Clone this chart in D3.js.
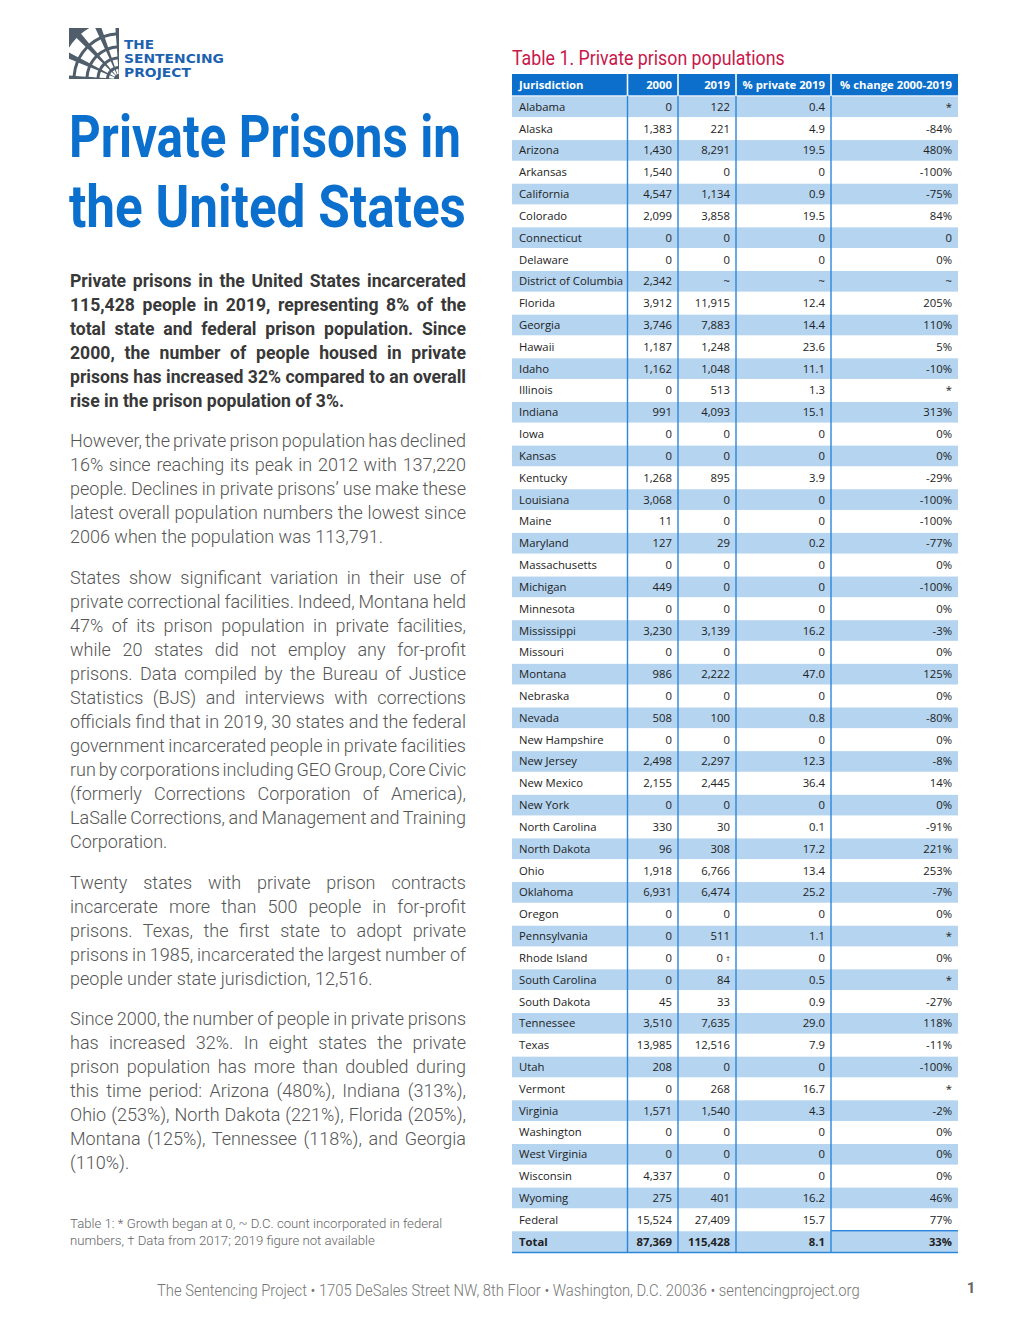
<!DOCTYPE html>
<html>
<head>
<meta charset="utf-8">
<script src="https://cdn.jsdelivr.net/npm/d3@7"></script>
<style>
  html, body { margin: 0; padding: 0; background: #fff; }
  svg { display: block; }
</style>
</head>
<body>
<script>
// ---------------- DATA ----------------
const tableTitle = "Table 1. Private prison populations";
const headers = ["Jurisdiction", "2000", "2019", "% private 2019", "% change 2000-2019"];
const jurisdictions = ["Alabama","Alaska","Arizona","Arkansas","California","Colorado","Connecticut","Delaware","District of Columbia","Florida","Georgia","Hawaii","Idaho","Illinois","Indiana","Iowa","Kansas","Kentucky","Louisiana","Maine","Maryland","Massachusetts","Michigan","Minnesota","Mississippi","Missouri","Montana","Nebraska","Nevada","New Hampshire","New Jersey","New Mexico","New York","North Carolina","North Dakota","Ohio","Oklahoma","Oregon","Pennsylvania","Rhode Island","South Carolina","South Dakota","Tennessee","Texas","Utah","Vermont","Virginia","Washington","West Virginia","Wisconsin","Wyoming","Federal","Total"];
const pop2000 = [0,1383,1430,1540,4547,2099,0,0,2342,3912,3746,1187,1162,0,991,0,0,1268,3068,11,127,0,449,0,3230,0,986,0,508,0,2498,2155,0,330,96,1918,6931,0,0,0,0,45,3510,13985,208,0,1571,0,0,4337,275,15524,87369];
// null = "~" (D.C. count incorporated in federal numbers)
const pop2019 = [122,221,8291,0,1134,3858,0,0,null,11915,7883,1248,1048,513,4093,0,0,895,0,0,29,0,0,0,3139,0,2222,0,100,0,2297,2445,0,30,308,6766,6474,0,511,0,84,33,7635,12516,0,268,1540,0,0,0,401,27409,115428];
const pop2019Notes = {"Rhode Island": "†"};
const pctPrivate2019 = ["0.4","4.9","19.5","0","0.9","19.5","0","0","~","12.4","14.4","23.6","11.1","1.3","15.1","0","0","3.9","0","0","0.2","0","0","0","16.2","0","47.0","0","0.8","0","12.3","36.4","0","0.1","17.2","13.4","25.2","0","1.1","0","0.5","0.9","29.0","7.9","0","16.7","4.3","0","0","0","16.2","15.7","8.1"];
const pctChange = ["*","-84%","480%","-100%","-75%","84%","0","0%","~","205%","110%","5%","-10%","*","313%","0%","0%","-29%","-100%","-100%","-77%","0%","-100%","0%","-3%","0%","125%","0%","-80%","0%","-8%","14%","0%","-91%","221%","253%","-7%","0%","*","0%","*","-27%","118%","-11%","-100%","*","-2%","0%","0%","0%","46%","77%","33%"];

const titleLines = ["Private Prisons in", "the United States"];
const logoWords = ["THE", "SENTENCING", "PROJECT"];
const para1 = [
  "Private prisons in the United States incarcerated",
  "115,428 people in 2019, representing 8% of the",
  "total state and federal prison population. Since",
  "2000, the number of people housed in private",
  "prisons has increased 32% compared to an overall",
  "rise in the prison population of 3%."
];
const para2 = [
  "However, the private prison population has declined",
  "16% since reaching its peak in 2012 with 137,220",
  "people. Declines in private prisons’ use make these",
  "latest overall population numbers the lowest since",
  "2006 when the population was 113,791."
];
const para3 = [
  "States show significant variation in their use of",
  "private correctional facilities. Indeed, Montana held",
  "47% of its prison population in private facilities,",
  "while 20 states did not employ any for-profit",
  "prisons. Data compiled by the Bureau of Justice",
  "Statistics (BJS) and interviews with corrections",
  "officials find that in 2019, 30 states and the federal",
  "government incarcerated people in private facilities",
  "run by corporations including GEO Group, Core Civic",
  "(formerly Corrections Corporation of America),",
  "LaSalle Corrections, and Management and Training",
  "Corporation."
];
const para4 = [
  "Twenty states with private prison contracts",
  "incarcerate more than 500 people in for-profit",
  "prisons. Texas, the first state to adopt private",
  "prisons in 1985, incarcerated the largest number of",
  "people under state jurisdiction, 12,516."
];
const para5 = [
  "Since 2000, the number of people in private prisons",
  "has increased 32%. In eight states the private",
  "prison population has more than doubled during",
  "this time period: Arizona (480%), Indiana (313%),",
  "Ohio (253%), North Dakota (221%), Florida (205%),",
  "Montana (125%), Tennessee (118%), and Georgia",
  "(110%)."
];
const footnoteLines = [
  "Table 1: * Growth began at 0, ~ D.C. count incorporated in federal",
  "numbers, † Data from 2017; 2019 figure not available"
];
const footerText = "The Sentencing Project • 1705 DeSales Street NW, 8th Floor • Washington, D.C. 20036 • sentencingproject.org";
const pageNumber = "1";

// ---------------- LAYOUT ----------------
const W = 1020, H = 1320;
const BLUE = "#0b6fcb", LIGHT = "#b4d4f0", LINE = "#2b86da";
const SANS = "Roboto, 'Open Sans', sans-serif";
const TFONT = "'Open Sans', 'Noto Sans', sans-serif";
const svg = d3.select("body").append("svg").attr("width", W).attr("height", H);
svg.append("rect").attr("width", W).attr("height", H).attr("fill", "#fff");
const defs = svg.append("defs");

// condensed text: draw at origin, then squeeze horizontally to a target width
function fitText(parent, str, x, yb, width, attrs) {
  const t = parent.append("text").attr("x", 0).attr("y", 0).text(str);
  Object.entries(attrs).forEach(([k, v]) => t.attr(k, v));
  const n = t.node().getComputedTextLength();
  t.attr("transform", `translate(${x},${yb}) scale(${width / n},1)`);
  return t;
}

// ---- Logo ----
const logo = svg.append("g").attr("transform", "translate(69,28)");
defs.append("clipPath").attr("id", "logoClip").append("rect").attr("width", 50).attr("height", 51);
logo.append("rect").attr("width", 50).attr("height", 51).attr("fill", "#505e6c");
const bands = [[5, 10], [13, 19.5], [22.5, 30.5], [33.5, 43.5], [46.5, 59]];
const sectors = [[-86, -68], [-62, -46], [-40, -25], [-19, -4]];
const arc = d3.arc();
const cells = [];
bands.forEach(b => sectors.forEach(s => cells.push({b, s})));
logo.append("g").attr("clip-path", "url(#logoClip)")
  .append("g").attr("transform", "translate(50,51)")
  .selectAll("path").data(cells).join("path")
  .attr("d", d => arc({innerRadius: d.b[0], outerRadius: d.b[1],
    startAngle: d.s[0] * Math.PI / 180, endAngle: d.s[1] * Math.PI / 180}))
  .attr("fill", "#fff");
const logoY = [49, 63, 77];
const logoW = [30, 100, 67];
const logoG = svg.append("g");
logoWords.forEach((w, i) => fitText(logoG, w, 124, logoY[i], logoW[i],
  {"font-family": "'DejaVu Sans', sans-serif", "font-weight": 700, "font-size": 12, "fill": "#1d62b0"}));

// ---- Title ----
const titleY = [157, 227];
const titleW = [392, 397];
const titleG = svg.append("g");
titleLines.forEach((t, i) => fitText(titleG, t, 69, titleY[i], titleW[i],
  {"font-family": SANS, "font-weight": 700, "font-size": 59, "fill": "#0a6fcd"}));

// ---- Paragraphs (justified) ----
const PX = 70, PW = 396, LH = 24;
function drawPara(lines, y0, opts) {
  const g = svg.append("g");
  lines.forEach((t, i) => {
    const el = g.append("text").attr("x", PX).attr("y", y0 + i * LH)
      .attr("font-family", SANS).attr("font-size", opts.size).attr("font-weight", opts.weight)
      .attr("fill", opts.color).text(t);
    if (i < lines.length - 1) {
      const n = el.node().getComputedTextLength();
      const spaces = (t.match(/ /g) || []).length;
      if (spaces) el.attr("word-spacing", ((PW - n) / spaces));
    }
  });
}
drawPara(para1, 287, {size: 17.6, weight: 700, color: "#383838"});
drawPara(para2, 447, {size: 18, weight: 300, color: "#555"});
drawPara(para3, 584, {size: 18, weight: 300, color: "#555"});
drawPara(para4, 889, {size: 18, weight: 300, color: "#555"});
drawPara(para5, 1025, {size: 18, weight: 300, color: "#555"});

// footnote
svg.append("g").selectAll("text").data(footnoteLines).join("text")
  .attr("x", 70).attr("y", (d, i) => 1228 + i * 16.5)
  .attr("font-family", SANS).attr("font-size", 13.2).attr("font-weight", 300)
  .attr("fill", "#666").text(d => d);

// footer
fitText(svg, footerText, 157, 1296, 703,
  {"font-family": SANS, "font-size": 16, "font-weight": 300, "fill": "#777"});
svg.append("text").attr("x", 971).attr("y", 1293).attr("text-anchor", "middle")
  .attr("font-family", SANS).attr("font-size", 15).attr("font-weight", 700).attr("fill", "#666").text(pageNumber);

// ---- Table ----
fitText(svg, tableTitle, 512, 65, 273,
  {"font-family": SANS, "font-size": 21, "font-weight": 400, "fill": "#c8174a"});

const nRows = jurisdictions.length;
const y = d3.scaleBand().domain(d3.range(nRows + 1)).range([74, 1252.5]);
const colKeys = ["name", "y2000", "y2019", "pctPriv", "pctChg"];
const xEdge = d3.scaleOrdinal().domain(colKeys.concat(["end"])).range([512, 627.5, 678, 736, 831, 958]);
const colLeft = k => xEdge(k);
const colRight = k => xEdge(colKeys[colKeys.indexOf(k) + 1] || "end");
const bw = y.bandwidth();
const fmt = d3.format(",");

const tg = svg.append("g");

// header cells
tg.selectAll("rect.hdr").data(colKeys).join("rect").attr("class", "hdr")
  .attr("x", (k, i) => colLeft(k) + (i ? 0.8 : 0))
  .attr("width", (k, i) => colRight(k) - colLeft(k) - (i ? 0.8 : 0) - (i < colKeys.length - 1 ? 0.8 : 0))
  .attr("y", y(0)).attr("height", bw - 0.5).attr("fill", BLUE);
tg.selectAll("text.hdr").data(colKeys).join("text").attr("class", "hdr")
  .attr("x", (k, i) => i ? colRight(k) - 6 : colLeft(k) + 7)
  .attr("text-anchor", (k, i) => i ? "end" : "start")
  .attr("y", y(0) + bw / 2 + 4)
  .attr("font-family", TFONT).attr("font-size", 11.3).attr("font-weight", 700).attr("fill", "#fff")
  .text((k, i) => headers[i]);

// body rows
const rows = jurisdictions.map((name, i) => ({
  i, name,
  cells: [
    name,
    fmt(pop2000[i]),
    pop2019[i] === null ? "~" : fmt(pop2019[i]),
    pctPrivate2019[i],
    pctChange[i]
  ]
}));
tg.selectAll("rect.row").data(rows.filter(r => r.i % 2 === 0)).join("rect").attr("class", "row")
  .attr("x", colLeft("name")).attr("width", colRight("pctChg") - colLeft("name"))
  .attr("y", r => y(r.i + 1) + 0.6).attr("height", bw - 1.2).attr("fill", LIGHT);

const cellData = [];
rows.forEach(r => colKeys.forEach((k, ci) => cellData.push({r, k, ci})));
const cellText = tg.selectAll("text.cell").data(cellData).join("text").attr("class", "cell")
  .attr("x", d => d.ci ? colRight(d.k) - 6 : colLeft(d.k) + 7)
  .attr("y", d => y(d.r.i + 1) + bw / 2 + 4)
  .attr("text-anchor", d => d.ci ? "end" : "start")
  .attr("font-family", TFONT).attr("font-size", 11.3)
  .attr("font-weight", d => d.r.name === "Total" ? 700 : 400)
  .attr("fill", "#222")
  .text(d => d.r.cells[d.ci]);
cellText.filter(d => d.k === "y2019" && pop2019Notes[d.r.name]).append("tspan")
  .attr("font-size", 8).attr("dx", 3).attr("dy", -1).text(d => pop2019Notes[d.r.name]);

// vertical column lines
tg.selectAll("line.v").data(colKeys.slice(1)).join("line").attr("class", "v")
  .attr("x1", k => colLeft(k)).attr("x2", k => colLeft(k))
  .attr("y1", y(1)).attr("y2", y(nRows) + bw)
  .attr("stroke", LINE).attr("stroke-width", 1.4);
// line above Total in last column
tg.append("line").attr("x1", colLeft("pctChg")).attr("x2", colRight("pctChg"))
  .attr("y1", y(nRows)).attr("y2", y(nRows)).attr("stroke", LINE).attr("stroke-width", 1.5);
// bottom rule
tg.append("line").attr("x1", colLeft("name")).attr("x2", colRight("pctChg"))
  .attr("y1", y(nRows) + bw).attr("y2", y(nRows) + bw).attr("stroke", LINE).attr("stroke-width", 1.6);
</script>
</body>
</html>
